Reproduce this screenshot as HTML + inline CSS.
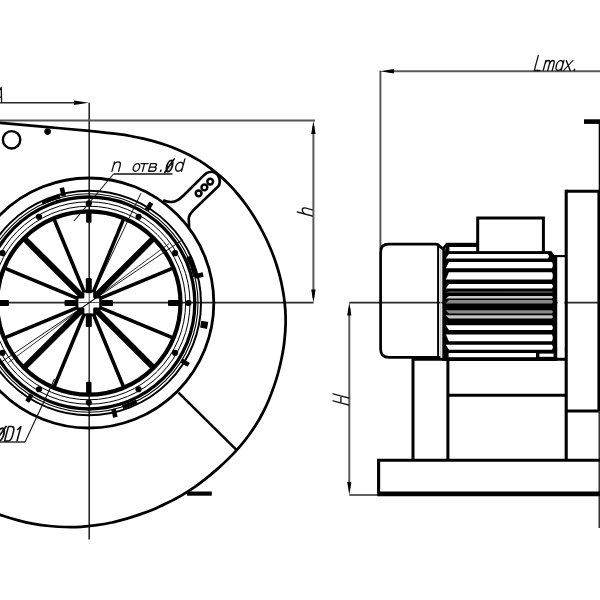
<!DOCTYPE html>
<html><head><meta charset="utf-8"><title>Fan drawing</title>
<style>html,body{margin:0;padding:0;background:#fff;width:600px;height:600px;overflow:hidden}svg{display:block;filter:blur(0.6px)}</style>
</head><body>
<svg width="600" height="600" viewBox="0 0 600 600" fill="none" stroke="#000" stroke-linecap="butt">
<rect x="0" y="0" width="600" height="600" fill="#fff" stroke="none"/>
<g stroke="#2a2a2a" stroke-width="1.6">
<line x1="0" y1="302.6" x2="313.5" y2="302.6"/>
<line x1="89.2" y1="102.8" x2="89.2" y2="539.5"/>
<line x1="0" y1="102.8" x2="80" y2="102.8"/>
<line x1="0" y1="120.5" x2="315" y2="120.5" stroke="#555" stroke-width="1.9"/>
<line x1="313.4" y1="126" x2="313.4" y2="298" stroke="#5a5a5a" stroke-width="2"/>
<line x1="388" y1="71.2" x2="600" y2="71.2" stroke="#5a5a5a" stroke-width="2"/>
<line x1="380.4" y1="70.6" x2="380.4" y2="250" stroke="#5a5a5a" stroke-width="2"/>
<line x1="349.3" y1="308" x2="349.3" y2="488" stroke="#5a5a5a" stroke-width="2"/>
<line x1="349.3" y1="302.6" x2="600" y2="302.6"/>
<line x1="349.3" y1="495" x2="380" y2="495" stroke="#5a5a5a" stroke-width="1.9"/>
</g>
<g fill="#000" stroke="none">
<path d="M88.6 102.8 L74 100.6 L74 105 Z"/>
<path d="M313.4 121 L311.2 134 L315.6 134 Z"/>
<path d="M313.4 302.6 L311.2 289.6 L315.6 289.6 Z"/>
<path d="M380 71.3 L394 69.1 L394 73.5 Z"/>
<path d="M349.3 302.6 L347.2 315.6 L351.4 315.6 Z"/>
<path d="M349.3 495 L347.2 482 L351.4 482 Z"/>
</g>
<path d="M-12.0 121.7 C-10.0 121.9 -9.5 122.0 0.0 122.9 C9.5 123.8 30.2 125.6 45.0 126.9 C59.8 128.2 78.7 129.9 89.0 130.9 C99.3 131.9 101.8 132.2 106.7 132.8 C111.6 133.4 114.6 133.7 118.6 134.2 C122.5 134.7 126.5 135.3 130.4 136.0 C134.4 136.7 138.4 137.5 142.3 138.4 C146.2 139.3 150.2 140.3 154.1 141.4 C158.0 142.5 161.9 143.7 165.8 145.0 C169.7 146.3 173.7 147.8 177.5 149.4 C181.3 151.0 185.1 152.8 188.8 154.7 C192.5 156.6 196.2 158.7 199.8 160.9 C203.4 163.1 206.9 165.6 210.3 168.1 C213.7 170.6 217.0 173.3 220.2 176.1 C223.4 178.9 226.5 181.8 229.5 184.9 C232.5 188.0 235.3 191.2 238.1 194.5 C240.8 197.8 243.5 201.2 246.0 204.7 C248.5 208.2 251.0 211.8 253.3 215.5 C255.6 219.2 257.9 223.0 260.0 226.8 C262.1 230.6 264.1 234.5 266.0 238.5 C267.9 242.5 269.7 246.6 271.4 250.7 C273.1 254.8 274.6 258.9 276.0 263.2 C277.4 267.4 278.7 271.8 279.8 276.2 C280.9 280.6 281.9 284.9 282.7 289.4 C283.5 293.9 284.2 298.4 284.7 303.0 C285.2 307.6 285.5 312.2 285.6 316.8 C285.7 321.4 285.6 326.0 285.3 330.6 C285.0 335.2 284.6 339.9 284.0 344.5 C283.4 349.1 282.5 353.7 281.6 358.3 C280.7 362.9 279.6 367.4 278.4 372.0 C277.2 376.6 275.7 381.1 274.2 385.6 C272.7 390.1 271.0 394.5 269.2 398.9 C267.4 403.3 265.4 407.7 263.2 412.0 C261.0 416.3 258.7 420.5 256.1 424.6 C253.6 428.7 250.8 432.6 247.9 436.5 C245.0 440.4 241.9 444.2 238.7 447.8 C235.5 451.4 232.1 455.0 228.7 458.4 C225.3 461.8 221.8 465.1 218.1 468.4 C214.4 471.6 210.7 474.8 206.8 477.9 C202.9 481.0 199.0 484.0 194.9 486.8 C190.8 489.6 186.7 492.3 182.4 494.9 C178.1 497.4 173.7 499.9 169.2 502.1 C164.7 504.4 160.2 506.4 155.6 508.4 C151.0 510.4 146.2 512.2 141.4 513.9 C136.6 515.6 131.7 517.2 126.8 518.6 C121.9 520.0 116.9 521.4 111.9 522.5 C106.9 523.6 101.8 524.5 96.6 525.2 C91.4 525.9 86.2 526.5 81.0 526.8 C75.8 527.1 70.5 527.1 65.3 527.0 C60.0 526.9 54.8 526.5 49.5 526.0 C44.2 525.5 39.0 524.8 33.8 523.8 C28.6 522.8 23.3 521.6 18.2 520.3 C13.1 518.9 7.9 517.4 2.9 515.7 C-2.1 514.0 -9.6 510.9 -12.1 510.0" stroke-width="2.75"/>
<line x1="178.5" y1="392.6" x2="236.7" y2="450.2" stroke-width="2.5"/>
<line x1="187" y1="493.6" x2="211.8" y2="493.6" stroke-width="4.2"/>
<circle cx="11.6" cy="139.8" r="8.7" stroke-width="2.4"/>
<circle cx="47.6" cy="131.6" r="3.3" fill="#000" stroke="none"/>
<path d="M163.2 200.2 C167 201.9 172 202.7 176 201 C179.5 199.5 181.2 197.8 183.5 195.5 L203.8 175.3 C206.5 172.5 211 170.9 214.6 172.6 C218.8 174.6 221.4 181 218.6 186 L193.9 209.7 C190.5 213 188.9 215 188.7 218.6 L189.2 227.5" stroke-width="2.6"/>
<circle cx="198.6" cy="193.3" r="2.9" stroke-width="2.5"/>
<circle cx="204.4" cy="187.4" r="2.9" stroke-width="2.5"/>
<circle cx="210.2" cy="181.6" r="2.9" stroke-width="2.5"/>
<circle cx="88.8" cy="303.0" r="91.7" stroke-width="4.2"/>
<circle cx="88.8" cy="303.0" r="96.8" stroke-width="1.0"/>
<circle cx="88.8" cy="303.0" r="101.2" stroke-width="1.0"/>
<circle cx="88.8" cy="303.0" r="106.0" stroke-width="3.3"/>
<circle cx="88.8" cy="303.0" r="109.2" stroke-width="1.1"/>
<circle cx="88.8" cy="303.0" r="112.2" stroke-width="2.0"/>
<circle cx="88.8" cy="303.0" r="125.0" stroke-width="2.8"/>
<line x1="97.11" y1="299.56" x2="172.41" y2="268.37" stroke-width="3.6"/>
<line x1="95.16" y1="296.64" x2="152.79" y2="239.01" stroke-width="5.9"/>
<line x1="92.24" y1="294.69" x2="123.43" y2="219.39" stroke-width="3.6"/>
<line x1="85.36" y1="294.69" x2="54.17" y2="219.39" stroke-width="3.6"/>
<line x1="82.44" y1="296.64" x2="24.81" y2="239.01" stroke-width="5.9"/>
<line x1="80.49" y1="299.56" x2="5.19" y2="268.37" stroke-width="3.6"/>
<line x1="80.49" y1="306.44" x2="5.19" y2="337.63" stroke-width="3.6"/>
<line x1="82.44" y1="309.36" x2="24.81" y2="366.99" stroke-width="5.9"/>
<line x1="85.36" y1="311.31" x2="54.17" y2="386.61" stroke-width="3.6"/>
<line x1="92.24" y1="311.31" x2="123.43" y2="386.61" stroke-width="3.6"/>
<line x1="95.16" y1="309.36" x2="152.79" y2="366.99" stroke-width="5.9"/>
<line x1="97.11" y1="306.44" x2="172.41" y2="337.63" stroke-width="3.6"/>
<line x1="97.38" y1="284.93" x2="140.92" y2="193.24" stroke-width="0.9"/>
<circle cx="88.8" cy="303.0" r="11.2" fill="#000" stroke="none"/>
<path d="M83.1 291.3 h11.4 v5.999999999999999 h5.999999999999999 v11.4 h-5.999999999999999 v5.999999999999999 h-11.4 v-5.999999999999999 h-5.999999999999999 v-11.4 h5.999999999999999 Z" fill="#fff" stroke="#000" stroke-width="2.6" stroke-linejoin="round"/>
<g fill="#000" stroke="none">
<rect x="85.8" y="278.3" width="6.0" height="15" rx="1"/>
<rect x="85.8" y="313.5" width="6.0" height="13.5" rx="1"/>
<rect x="64.5" y="300.0" width="12" height="6.0" rx="1"/>
<rect x="101.5" y="300.0" width="11.5" height="6.0" rx="1"/>
<rect x="86.1" y="211" width="5.4" height="11.8" rx="1"/>
<rect x="86.1" y="381.8" width="5.4" height="12" rx="1"/>
<rect x="168" y="299.9" width="13" height="6.2" rx="1"/>
<rect x="-4" y="299.9" width="13" height="6.2" rx="1"/>
</g>
<line x1="78.8" y1="302.6" x2="98.8" y2="302.6" stroke-width="0.9" stroke="#333"/>
<line x1="89.2" y1="293.0" x2="89.2" y2="313.0" stroke-width="0.9" stroke="#333"/>
<line x1="182.48" y1="239.81" x2="-4.88" y2="366.19" stroke-width="0.9"/>
<line x1="169.19" y1="243.52" x2="8.41" y2="362.48" stroke-width="0.8"/>
<circle cx="188.40" cy="303.00" r="3.1" fill="#000" stroke="none"/>
<circle cx="175.06" cy="253.20" r="3.1" fill="#000" stroke="none"/>
<circle cx="138.60" cy="216.74" r="3.1" fill="#000" stroke="none"/>
<circle cx="88.80" cy="203.40" r="3.1" fill="#000" stroke="none"/>
<circle cx="39.00" cy="216.74" r="3.1" fill="#000" stroke="none"/>
<circle cx="2.54" cy="253.20" r="3.1" fill="#000" stroke="none"/>
<circle cx="-10.80" cy="303.00" r="3.1" fill="#000" stroke="none"/>
<circle cx="2.54" cy="352.80" r="3.1" fill="#000" stroke="none"/>
<circle cx="39.00" cy="389.26" r="3.1" fill="#000" stroke="none"/>
<circle cx="88.80" cy="402.60" r="3.1" fill="#000" stroke="none"/>
<circle cx="138.60" cy="389.26" r="3.1" fill="#000" stroke="none"/>
<circle cx="175.06" cy="352.80" r="3.1" fill="#000" stroke="none"/>
<rect x="-4.2" y="-2.3" width="8.5" height="4.6" fill="#000" stroke="none" transform="translate(62.77 192.01) rotate(-103.2)"/>
<rect x="-4.2" y="-2.3" width="8.5" height="4.6" fill="#000" stroke="none" transform="translate(149.10 206.49) rotate(-58.0)"/>
<rect x="-4.2" y="-2.3" width="8.5" height="4.6" fill="#000" stroke="none" transform="translate(198.93 275.54) rotate(-14.0)"/>
<rect x="-4.2" y="-2.3" width="8.5" height="4.6" fill="#000" stroke="none" transform="translate(185.01 362.65) rotate(31.8)"/>
<rect x="-4.2" y="-2.3" width="8.5" height="4.6" fill="#000" stroke="none" transform="translate(114.41 413.06) rotate(76.9)"/>
<rect x="-4.2" y="-2.3" width="8.5" height="4.6" fill="#000" stroke="none" transform="translate(29.45 397.98) rotate(122.0)"/>
<rect x="-4.2" y="-2.3" width="8.5" height="4.6" fill="#000" stroke="none" transform="translate(-21.73 279.51) rotate(-168.0)"/>
<rect x="-3.5" y="-3.5" width="7.0" height="7.0" fill="#000" stroke="none" transform="translate(204.16 324.80) rotate(10.7)"/>
<path d="M42.10 202.85 A110.5 110.5 0 0 1 60.20 196.27" stroke-width="4.0"/>
<path d="M188.31 256.60 A109.8 109.8 0 0 1 195.34 276.44" stroke-width="4.2"/>
<path d="M136.80 401.42 A109.5 109.5 0 0 1 122.64 407.14" stroke-width="4.0"/>
<g stroke-width="1.1" stroke="#111">
<line x1="113.5" y1="174" x2="172.5" y2="174" stroke-width="1.3"/>
<line x1="113.5" y1="174" x2="74" y2="221"/>
<line x1="0" y1="442" x2="25" y2="442" stroke-width="1.3"/>
<line x1="25" y1="442" x2="54.5" y2="379"/>
</g>
<path d="M0 0 L0 9.3 M0 5.77 C0.33 8.37 1.98 9.3 3.63 9.3 C5.61 9.3 6.6 7.91 6.6 5.77 L6.6 0" transform="translate(112.0 171.2) rotate(0) matrix(1 0 0.268 -1 0 0)" stroke="#111" stroke-width="1.35" stroke-linecap="round" stroke-linejoin="round" fill="none"/>
<path d="M3.10 0 C1.40 0 0 1.71 0 3.80 C0 5.89 1.40 7.6 3.10 7.6 C4.81 7.6 6.2 5.89 6.2 3.80 C6.2 1.71 4.81 0 3.10 0 Z" transform="translate(132.3 171.2) rotate(0) matrix(1 0 0.268 -1 0 0)" stroke="#111" stroke-width="1.35" stroke-linecap="round" stroke-linejoin="round" fill="none"/>
<path d="M0 7.6 L7.0 7.6 M3.50 7.6 L3.50 0" transform="translate(139.0 171.2) rotate(0) matrix(1 0 0.268 -1 0 0)" stroke="#111" stroke-width="1.35" stroke-linecap="round" stroke-linejoin="round" fill="none"/>
<path d="M0 0 L0 7.6 L4.32 7.6 C6.84 7.6 6.84 4.03 4.32 4.03 L0 4.03 M4.32 4.03 C7.56 4.03 7.56 0 4.32 0 L0 0" transform="translate(148.6 171.2) rotate(0) matrix(1 0 0.268 -1 0 0)" stroke="#111" stroke-width="1.35" stroke-linecap="round" stroke-linejoin="round" fill="none"/>
<path d="M0 0 L0 0.90" transform="translate(160.6 171.2) rotate(0) matrix(1 0 0.268 -1 0 0)" stroke="#111" stroke-width="1.7" stroke-linecap="round" stroke-linejoin="round" fill="none"/>
<path d="M2.70 0 C1.22 0 0 2.47 0 5.49 C0 8.51 1.22 10.98 2.70 10.98 C4.19 10.98 5.4 8.51 5.4 5.49 C5.4 2.47 4.19 0 2.70 0 Z M-0.27 -0.61 L5.40 12.44" transform="translate(165.4 171.6) rotate(0) matrix(1 0 0.268 -1 0 0)" stroke="#111" stroke-width="2.0" stroke-linecap="round" stroke-linejoin="round" fill="none"/>
<path d="M3.50 0 C1.57 0 0 2.02 0 4.50 C0 6.98 1.57 9.0 3.50 9.0 C5.42 9.0 7.0 6.98 7.0 4.50 C7.0 2.02 5.42 0 3.50 0 M7.0 12.4 L7.0 0" transform="translate(174.6 171.2) rotate(0) matrix(1 0 0.268 -1 0 0)" stroke="#111" stroke-width="1.35" stroke-linecap="round" stroke-linejoin="round" fill="none"/>
<path d="M3.30 0 C1.48 0 0 2.94 0 6.53 C0 10.11 1.48 13.05 3.30 13.05 C5.12 13.05 6.6 10.11 6.6 6.53 C6.6 2.94 5.12 0 3.30 0 Z M-0.33 -0.73 L6.60 14.79" transform="translate(-4.6 441.3) rotate(0) matrix(1 0 0.268 -1 0 0)" stroke="#111" stroke-width="1.9" stroke-linecap="round" stroke-linejoin="round" fill="none"/>
<path d="M0 0 L0 14.5 L2.88 14.5 C5.44 14.5 6.4 12.32 6.4 9.43 L6.4 5.07 C6.4 2.17 5.44 0 2.88 0 Z" transform="translate(4.6 441.0) rotate(0) matrix(1 0 0.268 -1 0 0)" stroke="#111" stroke-width="1.6" stroke-linecap="round" stroke-linejoin="round" fill="none"/>
<path d="M0 11.60 L2.4 14.5 L2.4 0" transform="translate(14.6 441.0) rotate(0) matrix(1 0 0.268 -1 0 0)" stroke="#111" stroke-width="1.6" stroke-linecap="round" stroke-linejoin="round" fill="none"/>
<path d="M0 0 L4.30 14.6 L8.6 0 M1.46 4.82 L7.14 4.82" transform="translate(-7.0 102.0) rotate(0) matrix(1 0 0.268 -1 0 0)" stroke="#111" stroke-width="1.3" stroke-linecap="round" stroke-linejoin="round" fill="none"/>
<path d="M0 15.0 L0 0 L5.6 0" transform="translate(534.3 70.5) rotate(0) matrix(1 0 0.268 -1 0 0)" stroke="#111" stroke-width="1.3" stroke-linecap="round" stroke-linejoin="round" fill="none"/>
<path d="M0 0 L0 10.0 M0 6.20 C0.23 9.00 1.35 10.0 2.48 10.0 C3.82 10.0 4.50 8.50 4.50 6.20 L4.50 0 M4.50 6.20 C4.73 9.00 5.85 10.0 6.98 10.0 C8.33 10.0 9.00 8.50 9.00 6.20 L9.00 0" transform="translate(543.2 70.5) rotate(0) matrix(1 0 0.268 -1 0 0)" stroke="#111" stroke-width="1.35" stroke-linecap="round" stroke-linejoin="round" fill="none"/>
<path d="M3.10 0 C1.40 0 0 2.25 0 5.00 C0 7.75 1.40 10.0 3.10 10.0 C4.81 10.0 6.2 7.75 6.2 5.00 C6.2 2.25 4.81 0 3.10 0 M6.2 10.0 L6.2 0" transform="translate(555.0 70.5) rotate(0) matrix(1 0 0.268 -1 0 0)" stroke="#111" stroke-width="1.35" stroke-linecap="round" stroke-linejoin="round" fill="none"/>
<path d="M0 0 L6.6 10.0 M0 10.0 L6.6 0" transform="translate(563.6 70.5) rotate(0) matrix(1 0 0.268 -1 0 0)" stroke="#111" stroke-width="1.35" stroke-linecap="round" stroke-linejoin="round" fill="none"/>
<path d="M0 0 L0 1.20" transform="translate(574.2 70.5) rotate(0) matrix(1 0 0.268 -1 0 0)" stroke="#111" stroke-width="1.6" stroke-linecap="round" stroke-linejoin="round" fill="none"/>
<path d="M0 0 L0 15.0 M0 6.20 C0.31 9.00 1.86 10.0 3.41 10.0 C5.27 10.0 6.2 8.50 6.2 6.20 L6.2 0" transform="translate(312.3 216.0) rotate(-90) matrix(1 0 0.268 -1 0 0)" stroke="#111" stroke-width="1.35" stroke-linecap="round" stroke-linejoin="round" fill="none"/>
<path d="M0 0 L0 15.6 M7.0 0 L7.0 15.6 M0 7.80 L7.0 7.80" transform="translate(348.7 405.0) rotate(-90) matrix(1 0 0.268 -1 0 0)" stroke="#111" stroke-width="1.35" stroke-linecap="round" stroke-linejoin="round" fill="none"/>
<g stroke-width="2.4" stroke-linejoin="miter">
<path d="M441 357.4 L389 357.4 Q380.6 357.4 380.6 349 L380.6 252.3 Q380.6 244.2 388.6 244.2 L436 244.2 Q438 244.2 438.6 245.4 L442.8 248.8 L447.6 243.6" stroke-width="2.7"/>
<line x1="438.1" y1="245" x2="438.1" y2="358" stroke-width="2.0"/>
<line x1="440.8" y1="250" x2="440.8" y2="358" stroke-width="1.2" stroke="#bbb"/>
<path d="M477.7 252 L477.7 218 L543.4 218 L543.4 252" stroke-width="3.0"/>
<path d="M446 244.9 L478 244.9" stroke-width="4.2"/>
<path d="M447.6 243 L447.6 252" stroke-width="3.6"/>
<path d="M446 252.4 L551 252.4 L553.6 256.2 L566 256.2" stroke-width="2.2"/>
<line x1="566.2" y1="189.7" x2="566.2" y2="460" stroke-width="3.1"/>
<path d="M566 191.3 L600 191.3" stroke-width="3.1"/>
<line x1="599" y1="190" x2="599" y2="411" stroke-width="3.2"/>
<line x1="599.6" y1="121" x2="599.6" y2="191" stroke-width="1.8"/>
<line x1="584" y1="121.6" x2="600" y2="121.6" stroke-width="4.6"/>
<line x1="566" y1="411" x2="600" y2="411" stroke-width="3.0"/>
<line x1="599.3" y1="411" x2="599.3" y2="528" stroke-width="1.6" stroke="#333"/>
<path d="M413 460 L413 359.3 L566 359.3" stroke-width="3.0"/>
<line x1="447.9" y1="359" x2="447.9" y2="460" stroke-width="3.0"/>
<line x1="447.8" y1="395.2" x2="566" y2="395.2" stroke-width="3.0"/>
<path d="M600 460.3 L378.6 460.3 L378.6 493" stroke-width="3.1"/>
<line x1="377.3" y1="493.9" x2="600" y2="493.9" stroke-width="4.8"/>
</g>
<g stroke="none">
<path d="M442.3 248.6 L445.8 248.6 L445.8 251.4 L551 251.4 L553.6 255 L557.3 255 L557.3 361 L442.3 361 Z" fill="#000"/>
<path d="M448.9 253.9 L547.9 253.9 Q549.8 256.2 547.9 258.6 L445.9 258.6 Z" fill="#fff"/>
<path d="M448.9 262.1 L551.9 262.1 Q553.8 265.1 551.9 268.2 L445.9 268.2 Z" fill="#fff"/>
<path d="M448.9 272.3 L551.9 272.3 Q553.8 275.9 551.9 279.5 L445.9 279.5 Z" fill="#fff"/>
<path d="M448.9 284.1 L551.9 284.1 Q553.8 286.3 551.9 288.5 L445.9 288.5 Z" fill="#fff"/>
<path d="M448.9 291.2 L551.9 291.2 Q553.8 292.0 551.9 292.8 L445.9 292.8 Z" fill="#555"/>
<path d="M448.9 296.0 L551.9 296.0 Q553.8 297.3 551.9 298.6 L445.9 298.6 Z" fill="#ccc"/>
<path d="M448.9 300.0 L551.9 300.0 Q553.8 301.8 551.9 303.6 L445.9 303.6 Z" fill="#888"/>
<path d="M445.9 310.3 L551.9 310.3 Q553.8 312.0 551.9 313.6 L448.9 313.6 Z" fill="#888"/>
<path d="M445.9 315.2 L551.9 315.2 Q553.8 316.9 551.9 318.6 L448.9 318.6 Z" fill="#c4c4c4"/>
<path d="M445.9 325.2 L551.9 325.2 Q553.8 327.6 551.9 330.1 L448.9 330.1 Z" fill="#fff"/>
<path d="M445.9 334.4 L551.9 334.4 Q553.8 337.8 551.9 341.2 L448.9 341.2 Z" fill="#fff"/>
<path d="M445.9 344.8 L551.9 344.8 Q553.8 347.3 551.9 349.8 L448.9 349.8 Z" fill="#fff"/>
<rect x="448.6" y="353" width="87.4" height="4.2" fill="#fff"/>
<rect x="539.4" y="353.6" width="14.2" height="3.2" fill="#fff"/>
<rect x="557.7" y="257.6" width="6.6" height="89.6" fill="#fff"/>
<rect x="557.7" y="351.4" width="6.6" height="5.8" fill="#fff"/>
</g>
</svg></body></html>
